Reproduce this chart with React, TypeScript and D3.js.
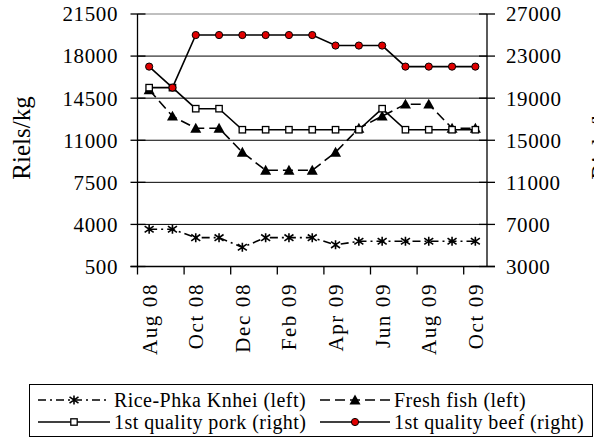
import React from "react";
import * as d3 from "d3";

const months = ["Aug 08","Sep 08","Oct 08","Nov 08","Dec 08","Jan 09","Feb 09","Mar 09","Apr 09","May 09","Jun 09","Jul 09","Aug 09","Sep 09","Oct 09"];
const rice = [3600,3600,2900,2900,2100,2900,2900,2900,2300,2600,2600,2600,2600,2600,2600];
const fish = [15200,13000,12000,12000,10000,8500,8500,8500,10000,12000,13000,14000,14000,12000,12000];
const pork = [20000,20000,18000,18000,16000,16000,16000,16000,16000,16000,18000,16000,16000,16000,16000];
const beef = [22000,20000,25000,25000,25000,25000,25000,25000,24000,24000,24000,22000,22000,22000,22000];
const leftTicks = [500,4000,7500,11000,14500,18000,21500];
const rightTicks = [3000,7000,11000,15000,19000,23000,27000];
const seriesNames = ["Rice-Phka Knhei (left)","Fresh fish (left)","1st quality pork (right)","1st quality beef (right)"];

const W = 594, H = 447;
const L = 137.5, R = 487, T = 14, B = 266.5;
const FONT = "'Liberation Serif', 'Times New Roman', serif";
const ts = { fontFamily: FONT };

function Marker({ kind, x, y }: { kind: string; x: number; y: number }) {
  if (kind === "star") {
    const s = 4.5;
    return (
      <path d={`M${x},${y - s}L${x},${y + s}M${x - s},${y - s * 0.7}L${x + s},${y + s * 0.7}M${x - s},${y + s * 0.7}L${x + s},${y - s * 0.7}`} stroke="#000" strokeWidth={1.6} fill="none" />
    );
  }
  if (kind === "tri") {
    const s = 5.5;
    return <path d={`M${x},${y - s}L${x + s},${y + s * 0.8}L${x - s},${y + s * 0.8}Z`} fill="#000" />;
  }
  if (kind === "square") {
    const s = 3.2;
    return <rect x={x - s} y={y - s} width={2 * s} height={2 * s} fill="#fff" stroke="#000" strokeWidth={1.3} />;
  }
  return <circle cx={x} cy={y} r={3.6} fill="#e00000" stroke="#000" strokeWidth={1} />;
}

export default function App() {
  const x = d3.scaleBand<string>().domain(months).range([L, R]).padding(0);
  const yl = d3.scaleLinear().domain([500, 21500]).range([B, T]);
  const yr = d3.scaleLinear().domain([3000, 27000]).range([B, T]);
  const cx = (m: string) => (x(m) as number) + x.bandwidth() / 2;

  const series = [
    { name: seriesNames[0], data: rice, y: yl, dash: "8,4,2,4", marker: "star" },
    { name: seriesNames[1], data: fish, y: yl, dash: "10,5", marker: "tri" },
    { name: seriesNames[2], data: pork, y: yr, dash: "", marker: "square" },
    { name: seriesNames[3], data: beef, y: yr, dash: "", marker: "circle" },
  ];

  const fs = 21;

  return (
    <svg width={W} height={H} style={{ position: "absolute", left: 0, top: 0, background: "#fff", fontFamily: FONT }}>
      <rect x={0} y={0} width={W} height={H} fill="#fff" />
      {leftTicks.map((t, i) => (
        <line key={"g" + t} x1={L} x2={R} y1={yl(t)} y2={yl(t)} stroke={i === leftTicks.length - 1 ? "#808080" : "#000"} strokeWidth={1} />
      ))}
      <line x1={L} x2={L} y1={T} y2={B} stroke="#000" strokeWidth={1.3} />
      <line x1={R} x2={R} y1={T} y2={B} stroke="#000" strokeWidth={1.3} />
      <line x1={L - 7} x2={R + 8} y1={B} y2={B} stroke="#000" strokeWidth={1.3} />
      {leftTicks.map((t) => (
        <line key={"lt" + t} x1={L - 7} x2={L + 8} y1={yl(t)} y2={yl(t)} stroke="#000" strokeWidth={1.3} />
      ))}
      {rightTicks.map((t) => (
        <line key={"rt" + t} x1={R - 8} x2={R + 8} y1={yr(t)} y2={yr(t)} stroke="#000" strokeWidth={1.3} />
      ))}
      {months.map((m, i) =>
        i % 2 === 0 ? (
          <line key={"xt" + m} x1={x(m) as number} x2={x(m) as number} y1={B} y2={B + 8} stroke="#000" strokeWidth={1.3} />
        ) : null
      )}
      {leftTicks.map((t) => (
        <text key={"ll" + t} style={{ ...ts, letterSpacing: "0.6px" }} x={118} y={yl(t)} dy="0.35em" textAnchor="end" fontSize={fs}>{t}</text>
      ))}
      {rightTicks.map((t) => (
        <text key={"rl" + t} style={{ ...ts, letterSpacing: "0.6px" }} x={506} y={yr(t)} dy="0.35em" textAnchor="start" fontSize={fs}>{t}</text>
      ))}
      {months.map((m, i) =>
        i % 2 === 0 ? (
          <text key={"xl" + m} style={{ ...ts, letterSpacing: "1.6px" }} transform={`translate(${cx(m)},${283}) rotate(-90)`} dy="0.35em" textAnchor="end" fontSize={fs}>{m}</text>
        ) : null
      )}
      <text style={ts} transform={`translate(21,138) rotate(-90)`} dy="0.35em" textAnchor="middle" fontSize={25}>Riels/kg</text>
      <text style={ts} transform={`translate(600,138) rotate(-90)`} dy="0.35em" textAnchor="middle" fontSize={25}>Riels/kg</text>
      {series.map((s) => {
        const line = d3.line<number>().x((_, i) => cx(months[i])).y((d) => s.y(d));
        return (
          <g key={s.name}>
            <path d={line(s.data) as string} fill="none" stroke="#000" strokeWidth={1.6} strokeDasharray={s.dash || undefined} />
            {s.data.map((d, i) => (
              <Marker key={i} kind={s.marker} x={cx(months[i])} y={s.y(d)} />
            ))}
          </g>
        );
      })}
      <rect x={29.5} y={384.5} width={563} height={52} fill="#fff" stroke="#000" strokeWidth={1} />
      {series.map((s, i) => {
        const col = i % 2, row = Math.floor(i / 2);
        const x0 = col === 0 ? 38 : 320;
        const x1 = col === 0 ? 110 : 390;
        const yy = row === 0 ? 400 : 422;
        return (
          <g key={"lg" + i}>
            <line x1={x0} x2={x1} y1={yy} y2={yy} stroke="#000" strokeWidth={1.6} strokeDasharray={s.dash || undefined} />
            <Marker kind={s.marker} x={(x0 + x1) / 2} y={yy} />
            <text style={{ ...ts, letterSpacing: "0.45px" }} x={x1 + 4} y={yy} dy="0.35em" fontSize={20}>{s.name}</text>
          </g>
        );
      })}
    </svg>
  );
}
